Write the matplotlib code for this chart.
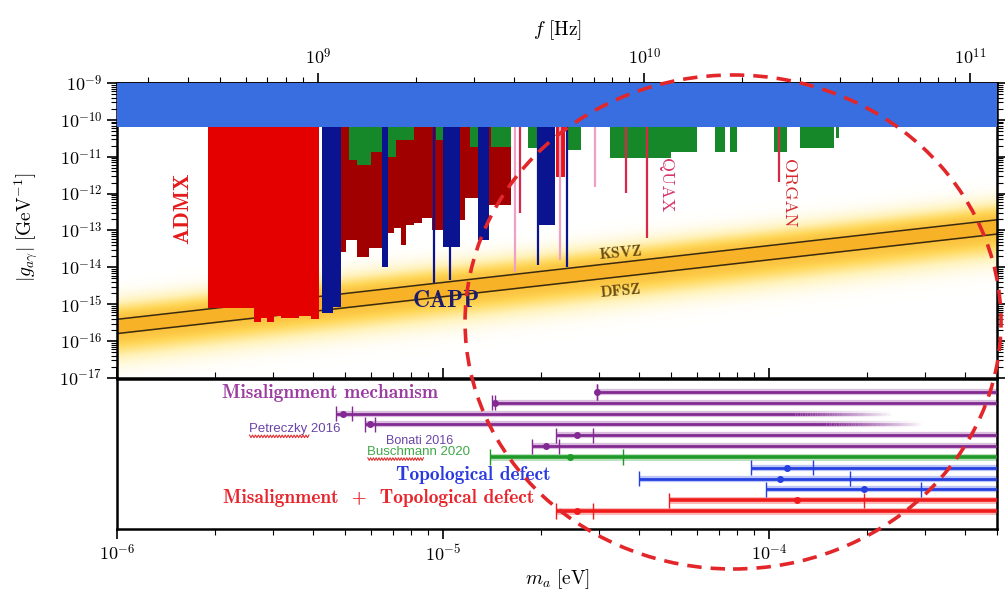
import numpy as np
import matplotlib
matplotlib.use('Agg')
import matplotlib.pyplot as plt
from matplotlib.colors import LinearSegmentedColormap, to_rgba
from matplotlib.collections import LineCollection
from matplotlib.patches import Ellipse
from matplotlib.ticker import LogLocator, FuncFormatter, NullFormatter

plt.rcParams['mathtext.fontset'] = 'cm'

# QCD axion band and helioscope limit
band_m = [1e-6, 5e-4]
ksvz_g = [3.9e-16, 1.95e-13]
dfsz_g = [1.6e-16, 8.0e-14]
cast_g = [6.6e-11, 1e-9]

# ADMX (bright red), steps between edges
admx_edges = [1.90e-6, 2.64e-6, 2.77e-6, 2.89e-6, 3.04e-6, 3.19e-6, 3.62e-6, 3.94e-6, 4.17e-6]
admx_floor = [8.0e-16, 3.3e-16, 4.3e-16, 3.3e-16, 4.9e-16, 4.3e-16, 4.9e-16, 4.0e-16]

# dark red exclusions
dred_lo = [4.86e-6, 5.04e-6, 5.44e-6, 5.92e-6, 6.77e-6, 7.06e-6, 7.42e-6, 7.68e-6,
           8.13e-6, 8.60e-6, 9.23e-6, 1.13e-5, 1.17e-5, 1.38e-5]
dred_hi = [5.04e-6, 5.44e-6, 5.92e-6, 6.49e-6, 7.06e-6, 7.42e-6, 7.68e-6, 8.13e-6,
           8.60e-6, 9.23e-6, 1.00e-5, 1.17e-5, 1.28e-5, 1.62e-5]
dred_g = [2.6e-14, 5.6e-14, 1.9e-14, 3.4e-14, 8.6e-14, 1.2e-13, 4.1e-14, 1.4e-13,
          1.6e-13, 2.2e-13, 1.0e-13, 1.9e-13, 7.6e-13, 4.9e-13]

# green exclusions
green_lo = [5.15e-6, 5.44e-6, 6.0e-6, 6.77e-6, 7.16e-6, 9.49e-6, 1.21e-5, 1.40e-5, 1.82e-5,
            2.42e-5, 3.25e-5, 3.8e-5, 5.0e-5, 6.84e-5, 7.60e-5, 1.036e-4, 1.24e-4, 1.60e-4]
green_hi = [5.44e-6, 6.0e-6, 6.49e-6, 7.16e-6, 8.13e-6, 1.00e-5, 1.28e-5, 1.62e-5, 1.96e-5,
            2.65e-5, 3.8e-5, 5.0e-5, 6.03e-5, 7.34e-5, 7.99e-5, 1.135e-4, 1.58e-4, 1.64e-4]
green_g = [8.2e-12, 6.0e-12, 1.35e-11, 9.9e-12, 2.85e-11, 2.85e-11, 1.85e-11, 1.85e-11, 1.74e-11,
           1.53e-11, 9.3e-12, 9.0e-12, 1.35e-11, 1.35e-11, 1.35e-11, 1.35e-11, 1.74e-11, 3.2e-11]

# CAPP (navy)
capp_lo = [4.26e-6, 4.60e-6, 6.49e-6, 1.00e-5, 1.28e-5, 1.96e-5]
capp_hi = [4.60e-6, 4.86e-6, 6.77e-6, 1.13e-5, 1.38e-5, 2.21e-5]
capp_g = [5.8e-16, 8.5e-16, 1.03e-14, 3.5e-14, 5.6e-14, 1.42e-13]
capp_line_m = [9.35e-6, 1.05e-5, 1.96e-5, 2.40e-5]
capp_line_g = [3.8e-15, 4.6e-15, 1.17e-14, 1.03e-14]

# other red block and narrow limits
red_lo = [2.22e-5]
red_hi = [2.37e-5]
red_g = [2.84e-12]
rline_m = [1.72e-5, 3.63e-5, 4.21e-5, 1.073e-4]
rline_g = [3.0e-13, 1.05e-12, 6.3e-14, 2.08e-12]
pline_m = [1.66e-5, 2.29e-5, 2.92e-5]
pline_g = [7.3e-15, 1.6e-14, 1.52e-12]

# lower panel: mass predictions (left cap, central value, right cap)
row_kind = ['mis'] * 6 + ['bus', 'top', 'top', 'top', 'both', 'both']
row_lo = [2.97e-5, 1.41e-5, 4.70e-6, 5.76e-6, 2.22e-5, 1.88e-5, 1.39e-5,
          8.81e-5, 3.98e-5, 9.79e-5, 4.95e-5, 2.22e-5]
row_c = [2.97e-5, 1.44e-5, 4.93e-6, 5.97e-6, 2.57e-5, 2.07e-5, 2.45e-5,
         1.135e-4, 1.08e-4, 1.96e-4, 1.22e-4, 2.57e-5]
row_hi = [2.97e-5, 1.44e-5, 5.25e-6, 6.18e-6, 2.88e-5, 2.27e-5, 3.56e-5,
          1.36e-4, 1.77e-4, 2.93e-4, 1.96e-4, 2.88e-5]
row_fade = [None, None, (1.2e-4, 2.41e-4), (1.5e-4, 2.97e-4), None, None,
            None, None, None, None, None, None]

kind_col = {'mis': '#832a92', 'bus': '#1f9a28', 'top': '#2440e0', 'both': '#f01c1c'}

m_right = 5e-4
top = 1e-9

fig = plt.figure(figsize=(10.05, 5.93), dpi=100)
ax = fig.add_axes([0.1164, 0.3626, 0.8756, 0.4974])
ax2 = fig.add_axes([0.1164, 0.1079, 0.8756, 0.2530])

# glow around the axion band
mm = np.logspace(-6, np.log10(m_right), 150)
gg = np.logspace(-17, -9, 500)
M, G = np.meshgrid(mm, gg)
lk = np.interp(np.log10(M), np.log10(band_m), np.log10(ksvz_g))
ld = np.interp(np.log10(M), np.log10(band_m), np.log10(dfsz_g))
lg = np.log10(G)
v = np.where(lg > lk, 0.85 * np.exp(-((lg - lk) / 0.5) ** 2),
             np.where(lg < ld, 0.85 * np.exp(-((ld - lg) / 0.65) ** 2), 1.0))
glow = LinearSegmentedColormap.from_list(
    'glow', [(0, 'white'), (0.35, '#fff2b8'), (0.7, '#ffd758'), (1.0, '#f7b228')])
ax.pcolormesh(M, G, v, cmap=glow, vmin=0, vmax=1, shading='gouraud', zorder=1, rasterized=True)
ax.fill_between(band_m, dfsz_g, ksvz_g, color='#f7b228', lw=0, zorder=1.5)
ax.plot(band_m, ksvz_g, color='#3a2a10', lw=1.1, zorder=2)
ax.plot(band_m, dfsz_g, color='#3a2a10', lw=1.1, zorder=2)

# exclusion regions
def bars(lo, hi, g, color, z):
    lo = np.array(lo); hi = np.array(hi); g = np.array(g)
    ax.bar(lo, top - g, width=hi - lo, bottom=g, align='edge', color=color, lw=0, zorder=z)

bars(dred_lo, dred_hi, dred_g, '#a00000', 3)
bars(green_lo, green_hi, green_g, '#17882a', 3.2)
bars(admx_edges[:-1], admx_edges[1:], admx_floor, '#e50000', 3.4)
bars(red_lo, red_hi, red_g, '#e8141c', 3.4)
bars(capp_lo, capp_hi, capp_g, '#0a1490', 3.6)
ax.vlines(capp_line_m, capp_line_g, top, color='#0a1490', lw=1.6, zorder=3.6)
ax.vlines(rline_m, rline_g, top, color='#d8284a', lw=1.6, zorder=3.5)
ax.vlines(pline_m, pline_g, top, color='#f0a0c8', lw=1.6, zorder=3.5)

ax.fill_between([1e-7, 1e-2], cast_g[0], cast_g[1], color='#386ee0', lw=0, zorder=5)

ax.set_xscale('log')
ax.set_yscale('log')
ax.set_xlim(1e-6, m_right)
ax.set_ylim(1e-17, 1e-9)

dec = FuncFormatter(lambda x, p: r'$10^{%d}$' % int(round(np.log10(x))))
ax.yaxis.set_major_locator(LogLocator(base=10, numticks=20))
ax.yaxis.set_minor_locator(LogLocator(base=10, subs=np.arange(2, 10), numticks=200))
ax.yaxis.set_major_formatter(dec)
ax.yaxis.set_minor_formatter(NullFormatter())
ax.tick_params(axis='y', which='both', direction='out', left=True, right=True, labelsize=13)
ax.tick_params(axis='y', which='major', length=7, width=1.2)
ax.tick_params(axis='y', which='minor', length=4, width=0.8)
ax.tick_params(axis='x', which='both', direction='in', bottom=True, top=False, labelbottom=False)
ax.tick_params(axis='x', which='major', length=7, width=1.2)
ax.tick_params(axis='x', which='minor', length=4, width=0.8)
ax.set_ylabel(r'$|g_{a\gamma}|\ [\mathrm{GeV}^{-1}]$', fontsize=14)
ax.yaxis.set_label_coords(-0.088, 0.51)

sec = ax.secondary_xaxis('top', functions=(lambda m: m * 2.418e14, lambda f: f / 2.418e14))
sec.set_xticks([1e9, 1e10, 1e11])
sec.xaxis.set_major_formatter(dec)
sec.xaxis.set_minor_formatter(NullFormatter())
sec.tick_params(which='both', direction='out', labelsize=13)
sec.tick_params(which='major', length=7, width=1.2)
sec.tick_params(which='minor', length=4, width=0.8)
sec.set_xlabel(r'$f\ [\mathrm{Hz}]$', fontsize=14, labelpad=9)

for a in (ax, ax2):
    for s in a.spines.values():
        s.set_linewidth(1.8)
sec.spines['top'].set_linewidth(1.8)

# labels in upper panel
ax.text(1.59e-6, 4.1e-13, 'ADMX', rotation=90, ha='center', va='center',
        family='cmb10', fontsize=16, color='#e41a1c', zorder=7)
ax.text(1.02e-5, 1.25e-15, 'CAPP', ha='center', va='center',
        family='cmb10', fontsize=17, color='#1c1c6e', zorder=7)
ax.text(3.51e-5, 2.47e-14, 'KSVZ', rotation=5, ha='center', va='center',
        family='cmb10', fontsize=11.5, color='#6b4e12', zorder=7)
ax.text(3.51e-5, 2.31e-15, 'DFSZ', rotation=5, ha='center', va='center',
        family='cmb10', fontsize=11.5, color='#6b4e12', zorder=7)
ax.text(4.81e-5, 1.72e-12, 'QUAX', rotation=270, ha='center', va='center',
        family='cmr10', fontsize=13, color='#d6336b', zorder=7)
ax.text(1.15e-4, 1.05e-12, 'ORGAN', rotation=270, ha='center', va='center',
        family='cmr10', fontsize=13, color='#d42a30', zorder=7)

# lower panel
rows = np.arange(len(row_c))
for i in rows:
    col = kind_col[row_kind[i]]
    lw = 2.6 if row_kind[i] in ('bus', 'both') else 2.0
    if row_fade[i] is None:
        ax2.plot([row_lo[i], m_right], [i, i], color=col, lw=lw + 2.5, alpha=0.3,
                 solid_capstyle='butt', zorder=2)
        ax2.plot([row_lo[i], m_right], [i, i], color=col, lw=lw, solid_capstyle='butt', zorder=3)
    else:
        f0, f1 = row_fade[i]
        ax2.plot([row_lo[i], f0], [i, i], color=col, lw=lw + 2.5, alpha=0.3,
                 solid_capstyle='butt', zorder=2)
        ax2.plot([row_lo[i], f0], [i, i], color=col, lw=lw, solid_capstyle='butt', zorder=3)
        xs = np.logspace(np.log10(f0), np.log10(f1), 41)
        segs = [[(xs[k], i), (xs[k + 1], i)] for k in range(40)]
        al = np.linspace(1, 0, 40)
        ax2.add_collection(LineCollection(segs, colors=[to_rgba(col, a) for a in al],
                                          linewidths=lw, zorder=3))
        ax2.add_collection(LineCollection(segs, colors=[to_rgba(col, 0.3 * a) for a in al],
                                          linewidths=lw + 2.5, zorder=2))
    ax2.vlines([row_lo[i], row_hi[i]], i - 0.7, i + 0.7, color=col, lw=1.0, zorder=3)
    ax2.plot(row_c[i], i, 'o', color=col, ms=4, zorder=4)

ax2.set_xscale('log')
ax2.set_xlim(1e-6, m_right)
ax2.set_ylim(12.66, -1.2)
ax2.set_yticks([])
ax2.xaxis.set_major_formatter(dec)
ax2.xaxis.set_minor_formatter(NullFormatter())
ax2.tick_params(axis='x', which='both', direction='out', labelsize=13)
ax2.tick_params(axis='x', which='major', length=7, width=1.2)
ax2.tick_params(axis='x', which='minor', length=4, width=0.8)
ax2.set_xlabel(r'$m_a\ [\mathrm{eV}]$', fontsize=14, labelpad=2)

ax2.text(4.50e-6, 0.1, 'Misalignment mechanism', ha='center', va='center',
         family='cmb10', fontsize=14, color='#9b3ca0')
ax2.text(1.24e-5, 7.67, 'Topological defect', ha='center', va='center',
         family='cmb10', fontsize=14, color='#2a3adf')
ax2.text(6.36e-6, 9.8, 'Misalignment  +  Topological defect', ha='center', va='center',
         family='cmb10', fontsize=14, color='#e8242c')
ax2.text(3.52e-6, 3.42, 'Petreczky 2016', ha='center', va='center',
         family='Liberation Sans', fontsize=9.5, color='#6a44a8')
ax2.text(8.48e-6, 4.53, 'Bonati 2016', ha='center', va='center',
         family='Liberation Sans', fontsize=9, color='#6a44a8')
ax2.text(8.41e-6, 5.55, 'Buschmann 2020', ha='center', va='center',
         family='Liberation Sans', fontsize=9.5, color='#40a848')

# red spell-check squiggles under two names
for x0, x1, yb in [(2.55e-6, 3.88e-6, 4.1), (5.88e-6, 8.71e-6, 6.2)]:
    xs = np.logspace(np.log10(x0), np.log10(x1), 41)
    ys = yb + np.where(np.arange(41) % 2 == 0, -0.12, 0.12)
    ax2.plot(xs, ys, color='#e03030', lw=0.8, zorder=3)

# dashed highlight ellipse
fig.add_artist(Ellipse((0.7294, 0.4570), 0.5333, 0.8331, transform=fig.transFigure,
                       fill=False, ec='#e3262a', lw=2.6, ls=(0, (4, 2.5)), zorder=10))

fig.savefig('out.png', dpi=100)
